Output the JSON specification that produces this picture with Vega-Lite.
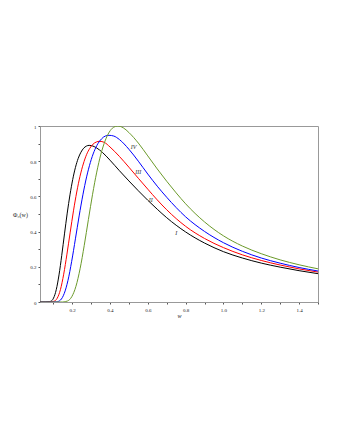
{
  "$schema": "https://vega.github.io/schema/vega-lite/v6.json",
  "autosize": {"type": "none"},
  "padding": {"left": 40, "top": 126, "right": 22, "bottom": 138},
  "width": 278,
  "height": 176,
  "background": "white",
  "config": {
    "view": {"stroke": "#999999", "strokeWidth": 1},
    "font": "Liberation Serif",
    "axis": {"domainColor": "#999999", "tickColor": "#555555", "tickSize": 2, "labelFontSize": 5, "labelColor": "#222222", "grid": false, "titleFontWeight": "normal", "labelOverlap": false, "labelFont": "Liberation Serif", "titleFont": "Liberation Serif", "titleColor": "#222222", "tickCount": 30}
  },
  "datasets": {
    "curves": [
      {"c": "I", "w": 0.03, "v": 0}, {"c": "I", "w": 0.06, "v": 0}, {"c": "I", "w": 0.0725, "v": 0.001}, {"c": "I", "w": 0.087, "v": 0.004},
      {"c": "I", "w": 0.1015, "v": 0.022}, {"c": "I", "w": 0.116, "v": 0.07}, {"c": "I", "w": 0.1305, "v": 0.154}, {"c": "I", "w": 0.145, "v": 0.265},
      {"c": "I", "w": 0.1595, "v": 0.387}, {"c": "I", "w": 0.174, "v": 0.505}, {"c": "I", "w": 0.1885, "v": 0.609}, {"c": "I", "w": 0.203, "v": 0.696},
      {"c": "I", "w": 0.2175, "v": 0.765}, {"c": "I", "w": 0.232, "v": 0.816}, {"c": "I", "w": 0.2465, "v": 0.851}, {"c": "I", "w": 0.261, "v": 0.874},
      {"c": "I", "w": 0.2755, "v": 0.886}, {"c": "I", "w": 0.29, "v": 0.89}, {"c": "I", "w": 0.31, "v": 0.886}, {"c": "I", "w": 0.33, "v": 0.875},
      {"c": "I", "w": 0.36, "v": 0.85}, {"c": "I", "w": 0.4, "v": 0.806}, {"c": "I", "w": 0.45, "v": 0.746}, {"c": "I", "w": 0.5, "v": 0.688},
      {"c": "I", "w": 0.55, "v": 0.632}, {"c": "I", "w": 0.6, "v": 0.578}, {"c": "I", "w": 0.65, "v": 0.527}, {"c": "I", "w": 0.7, "v": 0.479},
      {"c": "I", "w": 0.8, "v": 0.398}, {"c": "I", "w": 0.9, "v": 0.335}, {"c": "I", "w": 1.0, "v": 0.286}, {"c": "I", "w": 1.1, "v": 0.25},
      {"c": "I", "w": 1.2, "v": 0.221}, {"c": "I", "w": 1.3, "v": 0.198}, {"c": "I", "w": 1.4, "v": 0.178}, {"c": "I", "w": 1.5, "v": 0.161},

      {"c": "II", "w": 0.03, "v": 0}, {"c": "II", "w": 0.07, "v": 0}, {"c": "II", "w": 0.086, "v": 0.001}, {"c": "II", "w": 0.1035, "v": 0.004},
      {"c": "II", "w": 0.1208, "v": 0.021}, {"c": "II", "w": 0.138, "v": 0.07}, {"c": "II", "w": 0.1553, "v": 0.158}, {"c": "II", "w": 0.1725, "v": 0.272},
      {"c": "II", "w": 0.1898, "v": 0.397}, {"c": "II", "w": 0.207, "v": 0.518}, {"c": "II", "w": 0.2243, "v": 0.625}, {"c": "II", "w": 0.2415, "v": 0.714},
      {"c": "II", "w": 0.2588, "v": 0.784}, {"c": "II", "w": 0.276, "v": 0.837}, {"c": "II", "w": 0.2933, "v": 0.873}, {"c": "II", "w": 0.3105, "v": 0.897},
      {"c": "II", "w": 0.3278, "v": 0.909}, {"c": "II", "w": 0.345, "v": 0.913}, {"c": "II", "w": 0.37, "v": 0.907}, {"c": "II", "w": 0.4, "v": 0.881},
      {"c": "II", "w": 0.45, "v": 0.827}, {"c": "II", "w": 0.5, "v": 0.766}, {"c": "II", "w": 0.55, "v": 0.703}, {"c": "II", "w": 0.6, "v": 0.641},
      {"c": "II", "w": 0.65, "v": 0.58}, {"c": "II", "w": 0.7, "v": 0.524}, {"c": "II", "w": 0.8, "v": 0.43}, {"c": "II", "w": 0.9, "v": 0.361},
      {"c": "II", "w": 1.0, "v": 0.309}, {"c": "II", "w": 1.1, "v": 0.268}, {"c": "II", "w": 1.2, "v": 0.236}, {"c": "II", "w": 1.3, "v": 0.21},
      {"c": "II", "w": 1.4, "v": 0.188}, {"c": "II", "w": 1.5, "v": 0.17},

      {"c": "III", "w": 0.03, "v": 0}, {"c": "III", "w": 0.1, "v": 0}, {"c": "III", "w": 0.1185, "v": 0.001}, {"c": "III", "w": 0.1383, "v": 0.011},
      {"c": "III", "w": 0.158, "v": 0.048}, {"c": "III", "w": 0.1778, "v": 0.122}, {"c": "III", "w": 0.1975, "v": 0.231}, {"c": "III", "w": 0.2173, "v": 0.359},
      {"c": "III", "w": 0.237, "v": 0.489}, {"c": "III", "w": 0.2568, "v": 0.609}, {"c": "III", "w": 0.2765, "v": 0.711}, {"c": "III", "w": 0.2963, "v": 0.793},
      {"c": "III", "w": 0.316, "v": 0.855}, {"c": "III", "w": 0.3358, "v": 0.899}, {"c": "III", "w": 0.3555, "v": 0.927}, {"c": "III", "w": 0.3753, "v": 0.943},
      {"c": "III", "w": 0.395, "v": 0.947}, {"c": "III", "w": 0.42, "v": 0.943}, {"c": "III", "w": 0.45, "v": 0.923}, {"c": "III", "w": 0.5, "v": 0.868},
      {"c": "III", "w": 0.55, "v": 0.8}, {"c": "III", "w": 0.6, "v": 0.727}, {"c": "III", "w": 0.65, "v": 0.658}, {"c": "III", "w": 0.7, "v": 0.595},
      {"c": "III", "w": 0.8, "v": 0.484}, {"c": "III", "w": 0.9, "v": 0.401}, {"c": "III", "w": 1.0, "v": 0.337}, {"c": "III", "w": 1.1, "v": 0.288},
      {"c": "III", "w": 1.2, "v": 0.25}, {"c": "III", "w": 1.3, "v": 0.2206}, {"c": "III", "w": 1.4, "v": 0.196}, {"c": "III", "w": 1.5, "v": 0.176},

      {"c": "IV", "w": 0.03, "v": 0}, {"c": "IV", "w": 0.15, "v": 0}, {"c": "IV", "w": 0.176, "v": 0.006}, {"c": "IV", "w": 0.198, "v": 0.03},
      {"c": "IV", "w": 0.22, "v": 0.089}, {"c": "IV", "w": 0.242, "v": 0.189}, {"c": "IV", "w": 0.264, "v": 0.322}, {"c": "IV", "w": 0.286, "v": 0.469},
      {"c": "IV", "w": 0.308, "v": 0.612}, {"c": "IV", "w": 0.33, "v": 0.738}, {"c": "IV", "w": 0.352, "v": 0.84}, {"c": "IV", "w": 0.374, "v": 0.915},
      {"c": "IV", "w": 0.396, "v": 0.965}, {"c": "IV", "w": 0.418, "v": 0.992}, {"c": "IV", "w": 0.44, "v": 1.0}, {"c": "IV", "w": 0.47, "v": 0.99},
      {"c": "IV", "w": 0.5, "v": 0.963}, {"c": "IV", "w": 0.55, "v": 0.903}, {"c": "IV", "w": 0.6, "v": 0.83}, {"c": "IV", "w": 0.65, "v": 0.756},
      {"c": "IV", "w": 0.7, "v": 0.686}, {"c": "IV", "w": 0.75, "v": 0.62}, {"c": "IV", "w": 0.8, "v": 0.558}, {"c": "IV", "w": 0.9, "v": 0.455},
      {"c": "IV", "w": 1.0, "v": 0.376}, {"c": "IV", "w": 1.1, "v": 0.318}, {"c": "IV", "w": 1.2, "v": 0.2745}, {"c": "IV", "w": 1.3, "v": 0.2394},
      {"c": "IV", "w": 1.4, "v": 0.2115}, {"c": "IV", "w": 1.5, "v": 0.1885}
    ],
    "labels": [
      {"t": "I", "w": 0.75, "v": 0.392},
      {"t": "II", "w": 0.615, "v": 0.579},
      {"t": "III", "w": 0.549, "v": 0.738},
      {"t": "IV", "w": 0.525, "v": 0.881}
    ]
  },
  "layer": [
    {
      "data": {"name": "curves"},
      "mark": {"type": "line", "strokeWidth": 1, "interpolate": "monotone", "clip": true},
      "encoding": {
        "x": {"field": "w", "type": "quantitative", "scale": {"domain": [0.03, 1.5], "nice": false, "zero": false},
          "axis": {"values": [0.1, 0.2, 0.3, 0.4, 0.5, 0.6, 0.7, 0.8, 0.9, 1.0, 1.1, 1.2, 1.3, 1.4, 1.5], "tickCount": 30,
            "labelExpr": "(round(datum.value*10) % 2 == 0) ? format(datum.value, '.1f') : ''",
            "title": "w", "titleFontSize": 6, "titleFontStyle": "italic", "titlePadding": 0, "labelPadding": 3}},
        "y": {"field": "v", "type": "quantitative", "scale": {"domain": [0, 1], "nice": false},
          "axis": {"values": [0, 0.1, 0.2, 0.3, 0.4, 0.5, 0.6, 0.7, 0.8, 0.9, 1.0], "tickCount": 30,
            "labelExpr": "datum.value == 0 ? '0' : datum.value == 1 ? '1' : (round(datum.value*10) % 2 == 0) ? format(datum.value, '.1f') : ''",
            "title": "Φ₀(w)", "titleAngle": 0, "titleFontSize": 6, "titleX": -20, "titleY": 88, "titleAlign": "center", "titleBaseline": "middle", "labelPadding": 2}},
        "color": {"field": "c", "type": "nominal", "scale": {"domain": ["I", "II", "III", "IV"], "range": ["#000000", "#ff0000", "#0000ff", "#6b9a2a"]}, "legend": null}
      }
    },
    {
      "data": {"name": "labels"},
      "mark": {"type": "text", "fontSize": 6, "fontStyle": "italic", "font": "Liberation Serif", "fill": "#333333", "align": "center", "baseline": "middle"},
      "encoding": {
        "x": {"field": "w", "type": "quantitative"},
        "y": {"field": "v", "type": "quantitative"},
        "text": {"field": "t"}
      }
    }
  ]
}
